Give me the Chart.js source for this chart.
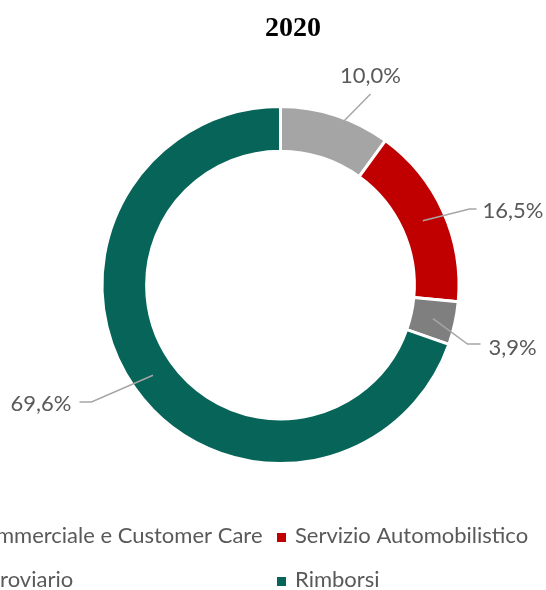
<!DOCTYPE html>
<html>
<head>
<meta charset="utf-8">
<script src="https://cdn.jsdelivr.net/npm/chart.js@4.4.1/dist/chart.umd.min.js"></script>
<style>
html,body{margin:0;padding:0;background:#fff;}
#wrap{position:relative;width:546px;height:590px;overflow:hidden;}
</style>
</head>
<body>
<div id="wrap"><canvas id="c" width="546" height="590"></canvas></div>
<script>
// ---- data ----
const categories = ['Servizio Commerciale e Customer Care', 'Servizio Automobilistico', 'Servizio Ferroviario', 'Rimborsi'];
const shares = [10.0, 16.5, 3.9, 69.6];
const valueLabels = ['10,0%', '16,5%', '3,9%', '69,6%'];
const sliceColors = ['#a5a5a5', '#c00000', '#7f7f7f', '#066458'];
const chartTitle = '2020';

// ---- layout (label leader elbows relative to chart centre) ----
const labelLayout = [
  {dx: 90, dy: -191, tail: 0, align: 'center', tx: 0, ty: -11},
  {dx: 189, dy: -76, tail: 7, align: 'left', tx: 6, ty: 9},
  {dx: 187, dy: 59, tail: 13, align: 'left', tx: 8, ty: 11},
  {dx: -189, dy: 117, tail: -12, align: 'right', tx: -8, ty: 9}
];
const FONT = 'Lato';
const TEXT_COLOR = '#595959';

const decorPlugin = {
  id: 'decor',
  afterDraw(chart) {
    const ctx = chart.ctx;
    const meta = chart.getDatasetMeta(0);
    ctx.save();
    // title
    ctx.fillStyle = '#000';
    ctx.font = 'bold 28px "Liberation Serif"';
    ctx.textAlign = 'center';
    ctx.textBaseline = 'alphabetic';
    ctx.fillText(chartTitle, 293, 36);
    // data labels with leader lines
    ctx.font = '22px ' + FONT;
    meta.data.forEach((arc, i) => {
      const p = arc.getProps(['x', 'y', 'startAngle', 'endAngle', 'innerRadius', 'outerRadius'], true);
      const mid = (p.startAngle + p.endAngle) / 2;
      const r = (p.innerRadius + p.outerRadius) / 2;
      const sx = p.x + Math.cos(mid) * r, sy = p.y + Math.sin(mid) * r;
      const L = labelLayout[i];
      const ex = p.x + L.dx, ey = p.y + L.dy;
      ctx.strokeStyle = '#a6a6a6';
      ctx.lineWidth = 1.5;
      ctx.beginPath();
      ctx.moveTo(sx, sy);
      ctx.lineTo(ex, ey);
      if (L.tail) ctx.lineTo(ex + L.tail, ey);
      ctx.stroke();
      ctx.fillStyle = TEXT_COLOR;
      ctx.textAlign = L.align;
      ctx.fillText(valueLabels[i], ex + L.tail + L.tx, ey + L.ty);
    });
    // legend (2 x 2 grid)
    ctx.font = '22px ' + FONT;
    ctx.textAlign = 'left';
    const col2Marker = 277;
    const col1Width = Math.max(ctx.measureText(categories[0]).width, ctx.measureText(categories[2]).width);
    const col1Text = col2Marker - 14.5 - col1Width;
    const colMarker = [col1Text - 18, col2Marker];
    const colText = [col1Text, col2Marker + 18];
    const rowBase = [543, 587];
    categories.forEach((c, i) => {
      const col = i % 2, row = Math.floor(i / 2);
      ctx.fillStyle = sliceColors[i];
      ctx.fillRect(colMarker[col], rowBase[row] - 10, 9, 9);
      ctx.fillStyle = TEXT_COLOR;
      ctx.fillText(c, colText[col], rowBase[row]);
    });
    ctx.restore();
  }
};

new Chart(document.getElementById('c'), {
  type: 'doughnut',
  data: {
    labels: categories,
    datasets: [{
      data: shares,
      backgroundColor: sliceColors,
      borderColor: '#ffffff',
      borderWidth: 3,
      hoverBorderWidth: 3,
      offset: 0,
      hoverOffset: 0
    }]
  },
  options: {
    responsive: false,
    animation: false,
    cutout: '75%',
    layout: {padding: {left: 100.5, right: 85.5, top: 105, bottom: 125}},
    plugins: {legend: {display: false}, tooltip: {enabled: false}, title: {display: false}}
  },
  plugins: [decorPlugin]
});
</script>
</body>
</html>
